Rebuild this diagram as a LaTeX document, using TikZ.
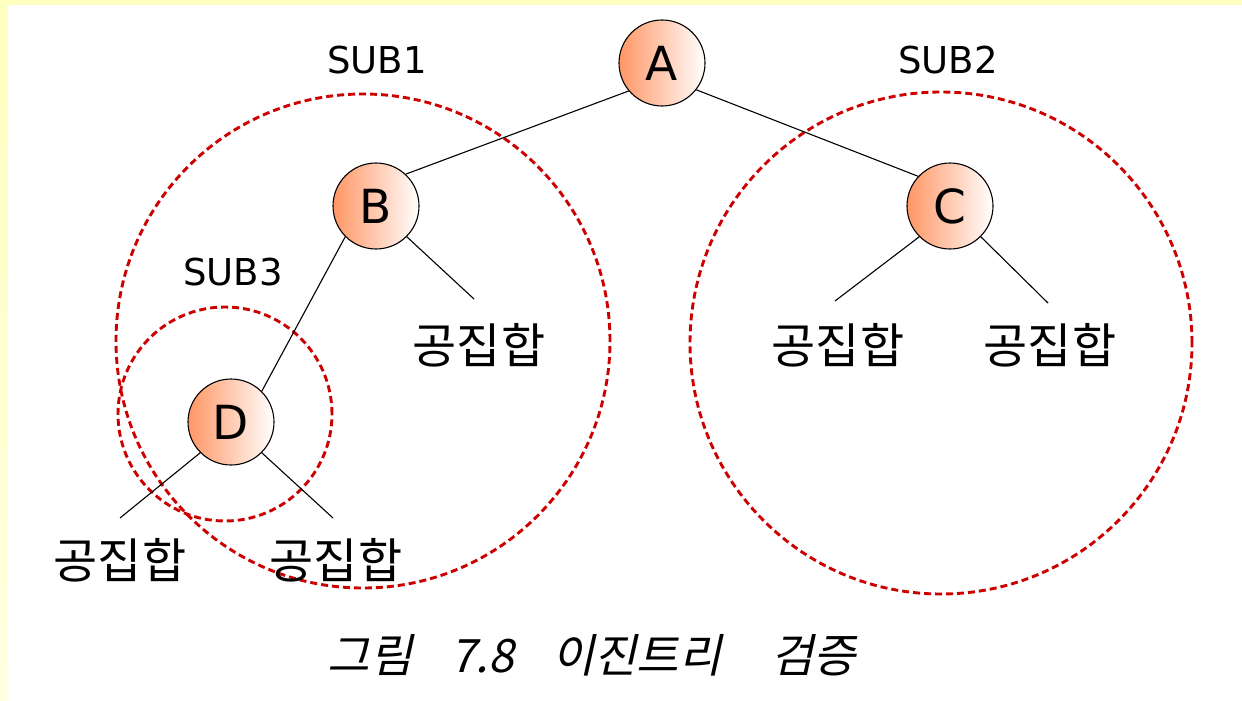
\documentclass[tikz,border=0pt]{standalone}
\usepackage{fontspec}
\setmainfont{DejaVu Sans}
\newfontfamily\kr{Noto Sans CJK KR}
\newfontfamily\krslant[FakeSlant=0.22]{Noto Sans CJK KR}
\definecolor{nodeorange}{RGB}{255,150,100}
\definecolor{groupred}{RGB}{205,0,0}
\definecolor{paneltop}{RGB}{255,255,192}
\definecolor{panelbot}{RGB}{255,255,224}
\begin{document}
\begin{tikzpicture}[x=1pt,y=-1pt,
  vertex/.style={circle, draw=black, line width=1.1pt, minimum size=86pt, inner sep=0pt,
    left color=nodeorange, right color=white, font=\fontsize{47}{47}\selectfont},
  edge/.style={draw=black, line width=1.1pt},
  group/.style={draw=groupred, line width=2.9pt, dash pattern=on 7pt off 4pt},
  leaf/.style={font=\kr\fontsize{48}{48}\selectfont, inner sep=0pt},
  tag/.style={font=\fontsize{37}{37}\selectfont, inner sep=0pt}]

% page and yellow frame
\useasboundingbox (0,0) rectangle (1242,701);
\fill[white] (0,0) rectangle (1242,701);
\shade[top color=paneltop, bottom color=panelbot] (0,0) rectangle (8,701);
\fill[paneltop] (0,0) rectangle (1242,5);

% subtree outlines
\draw[group] (363,341) circle [radius=247pt];
\draw[group] (941,343) circle [radius=251pt];
\draw[group] (225,414) circle [radius=107pt];

% tree nodes
\node[vertex] (A) at (662,63) {A};
\node[vertex] (B) at (376,206) {B};
\node[vertex] (C) at (950,206) {C};
\node[vertex] (D) at (231,422) {D};

% free ends of the empty-set branches
\coordinate (bR) at (474,299);
\coordinate (cL) at (835,301);
\coordinate (cR) at (1048,303);
\coordinate (dL) at (120,518);
\coordinate (dR) at (333,518);

% branches
\draw[edge] (A.220) -- (B.47);
\draw[edge] (A.322) -- (C.137);
\draw[edge] (B.225) -- (D.45);
\draw[edge] (B.-45) -- (bR);
\draw[edge] (C.225) -- (cL);
\draw[edge] (C.-45) -- (cR);
\draw[edge] (D.225) -- (dL);
\draw[edge] (D.-45) -- (dR);

% empty sets
\node[leaf] (eB) at (479,345) {공집합};
\node[leaf] (eC1) at (838,345) {공집합};
\node[leaf] (eC2) at (1050,345) {공집합};
\node[leaf] (eD1) at (120,560) {공집합};
\node[leaf] (eD2) at (336,560) {공집합};

% subtree labels
\node[tag] (s1) at (377,60) {SUB1};
\node[tag] (s2) at (948,60) {SUB2};
\node[tag] (s3) at (233,272) {SUB3};

% caption
\node[font=\krslant\fontsize{46}{46}\selectfont, inner sep=0pt] (cap) at (592,655)
  {그림\hspace{38pt}7.8\hspace{38pt}이진트리\hspace{50pt}검증};
\end{tikzpicture}
\end{document}
